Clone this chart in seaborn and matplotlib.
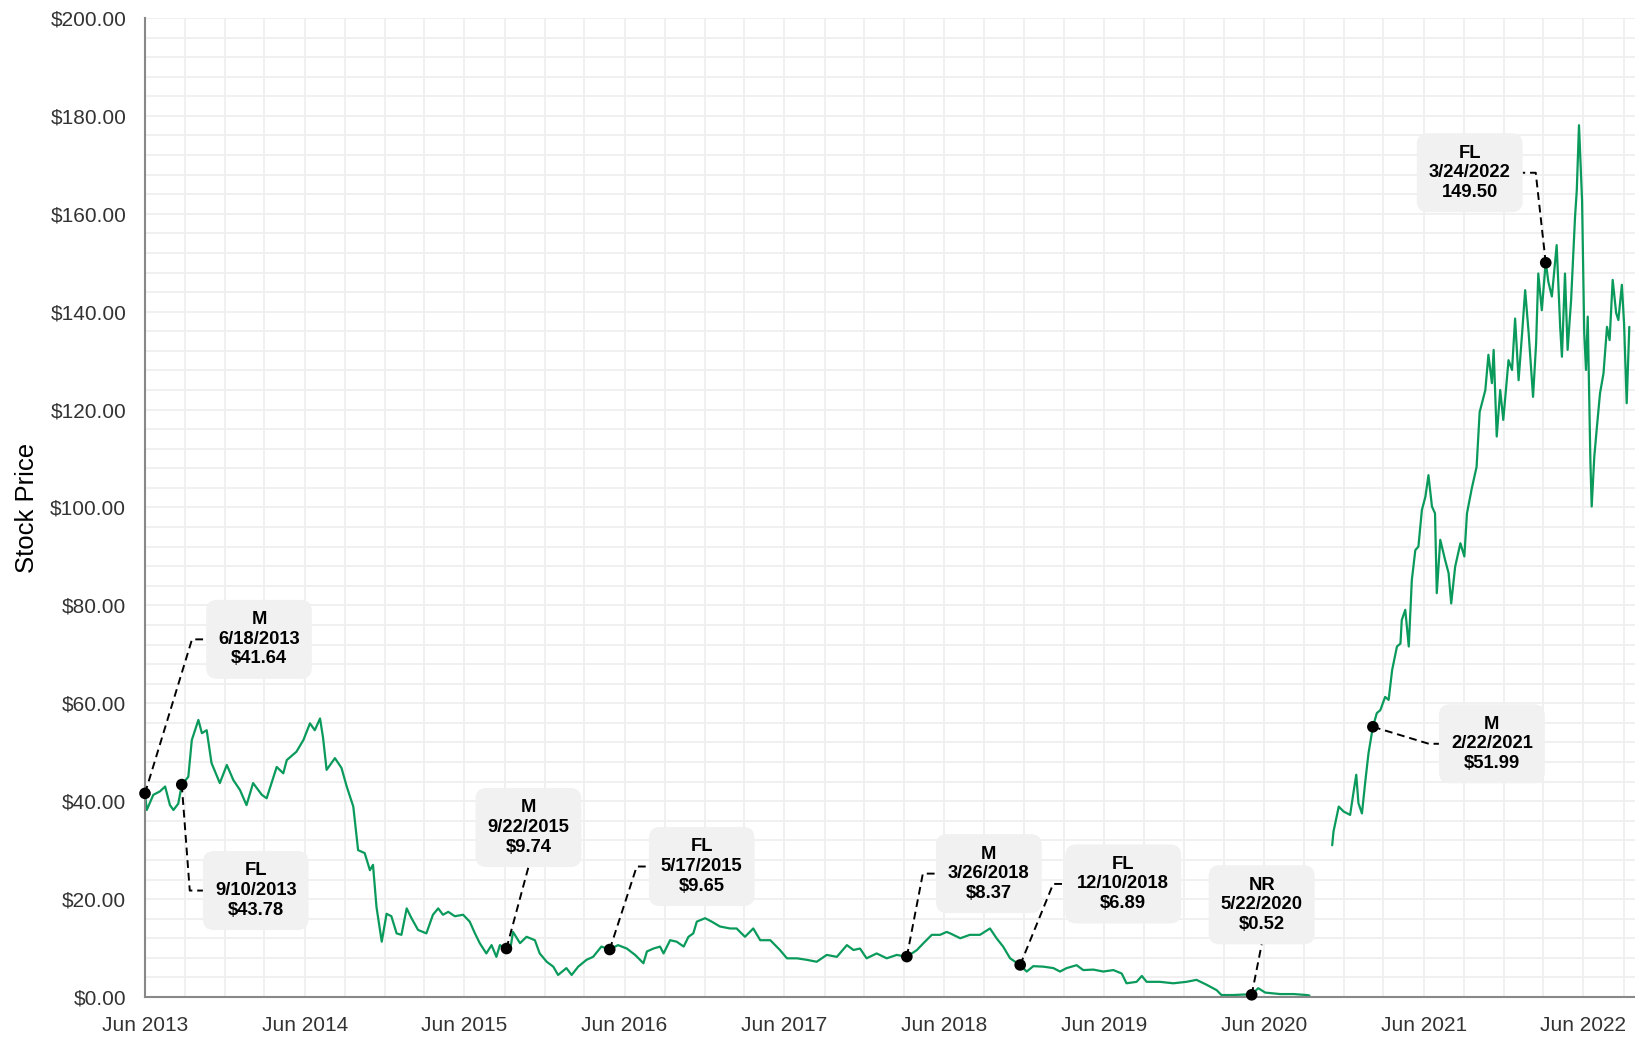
import pandas as pd
import numpy as np
import matplotlib
matplotlib.use('Agg')
import matplotlib.pyplot as plt
import matplotlib.dates as mdates
import matplotlib.ticker as mticker
from matplotlib.patches import FancyBboxPatch
from matplotlib.lines import Line2D
from matplotlib.transforms import IdentityTransform
import seaborn as sns

# --- price series (first part ends before the gap in autumn 2020)
dates_a = [
    '2013-06-01', '2013-06-05', '2013-06-20', '2013-07-05', '2013-07-17', '2013-07-28',
    '2013-08-05', '2013-08-16', '2013-08-24', '2013-09-08', '2013-09-16', '2013-10-01',
    '2013-10-09', '2013-10-20', '2013-10-31', '2013-11-19', '2013-12-05', '2013-12-20',
    '2014-01-04', '2014-01-19', '2014-02-03', '2014-02-23', '2014-03-06', '2014-03-29',
    '2014-04-13', '2014-04-21', '2014-05-13', '2014-05-29', '2014-06-13', '2014-06-24',
    '2014-07-06', '2014-07-13', '2014-07-21', '2014-08-09', '2014-08-24', '2014-09-05',
    '2014-09-20', '2014-10-01', '2014-10-16', '2014-10-28', '2014-11-04', '2014-11-12',
    '2014-11-24', '2014-12-05', '2014-12-16', '2014-12-28', '2015-01-08', '2015-01-20',
    '2015-01-31', '2015-02-15', '2015-03-06', '2015-03-21', '2015-04-02', '2015-04-13',
    '2015-04-25', '2015-05-10', '2015-05-29', '2015-06-13', '2015-06-25', '2015-07-06',
    '2015-07-21', '2015-08-02', '2015-08-13', '2015-08-21', '2015-09-05', '2015-09-13',
    '2015-09-20', '2015-10-06', '2015-10-21', '2015-11-09', '2015-11-20', '2015-12-06',
    '2015-12-21', '2016-01-01', '2016-01-20', '2016-02-01', '2016-02-16', '2016-03-06',
    '2016-03-21', '2016-04-09', '2016-04-28', '2016-05-17', '2016-06-06', '2016-06-25',
    '2016-07-14', '2016-07-22', '2016-08-06', '2016-08-21', '2016-08-29', '2016-09-13',
    '2016-09-28', '2016-10-14', '2016-10-25', '2016-11-05', '2016-11-13', '2016-12-02',
    '2016-12-17', '2017-01-05', '2017-01-28', '2017-02-12', '2017-03-03', '2017-03-22',
    '2017-04-07', '2017-04-30', '2017-05-22', '2017-06-07', '2017-06-30', '2017-07-22',
    '2017-08-14', '2017-09-06', '2017-09-29', '2017-10-22', '2017-11-06', '2017-11-21',
    '2017-12-06', '2017-12-29', '2018-01-21', '2018-02-13', '2018-03-08', '2018-03-31',
    '2018-04-15', '2018-05-04', '2018-05-23', '2018-06-07', '2018-06-15', '2018-07-08',
    '2018-07-30', '2018-08-22', '2018-09-14', '2018-09-29', '2018-10-14', '2018-10-30',
    '2018-11-22', '2018-12-07', '2018-12-22', '2019-01-14', '2019-02-06', '2019-02-21',
    '2019-03-08', '2019-03-31', '2019-04-15', '2019-05-08', '2019-05-31', '2019-06-23',
    '2019-07-12', '2019-07-23', '2019-08-15', '2019-08-27', '2019-09-07', '2019-10-07',
    '2019-11-07', '2019-12-07', '2019-12-30', '2020-01-22', '2020-02-14', '2020-02-25',
    '2020-03-23', '2020-04-15', '2020-05-04', '2020-05-19', '2020-06-04', '2020-07-08',
    '2020-08-08', '2020-09-07', '2020-09-13',
]
prices_a = [
    41.6, 38.2, 41.3, 42.0, 43.0, 39.2,
    38.2, 39.5, 43.3, 45.0, 52.5, 56.6,
    53.9, 54.5, 47.8, 43.7, 47.4, 44.3,
    42.3, 39.2, 43.7, 41.3, 40.6, 47.0,
    45.7, 48.4, 50.1, 52.5, 55.9, 54.5,
    56.9, 52.9, 46.4, 48.8, 46.8, 43.0,
    38.9, 30.0, 29.4, 25.9, 27.0, 18.4,
    11.3, 17.0, 16.5, 13.0, 12.7, 18.1,
    16.1, 13.7, 13.0, 16.8, 18.1, 16.8,
    17.4, 16.5, 16.8, 15.4, 13.0, 11.0,
    8.9, 10.6, 8.2, 10.6, 9.9, 9.3,
    13.3, 11.0, 12.3, 11.6, 8.9, 7.2,
    6.2, 4.5, 5.9, 4.5, 6.2, 7.6,
    8.2, 10.3, 9.7, 10.6, 9.9, 8.6,
    6.9, 9.3, 9.9, 10.3, 8.9, 11.6,
    11.3, 10.3, 12.3, 13.0, 15.4, 16.1,
    15.4, 14.4, 14.0, 14.0, 12.3, 14.0,
    11.6, 11.6, 9.6, 7.9, 7.9, 7.6,
    7.2, 8.6, 8.2, 10.6, 9.6, 9.9,
    7.9, 8.9, 7.9, 8.6, 8.2, 9.6,
    11.0, 12.7, 12.7, 13.3, 13.0, 12.0,
    12.7, 12.7, 14.0, 12.0, 10.3, 7.9,
    6.5, 5.2, 6.3, 6.2, 5.9, 5.2,
    5.9, 6.5, 5.5, 5.6, 5.2, 5.5,
    4.8, 2.8, 3.1, 4.3, 3.1, 3.1,
    2.8, 3.1, 3.5, 2.5, 1.4, 0.4,
    0.4, 0.5, 0.5, 1.8, 0.9, 0.6,
    0.6, 0.4, 0.3,
]

dates_b = [
    '2020-11-04', '2020-11-07', '2020-11-19', '2020-11-30', '2020-12-15', '2020-12-23',
    '2020-12-29', '2021-01-03', '2021-01-11', '2021-01-19', '2021-01-26', '2021-02-05',
    '2021-02-14', '2021-02-22', '2021-03-05', '2021-03-13', '2021-03-21', '2021-04-01',
    '2021-04-09', '2021-04-12', '2021-04-20', '2021-04-28', '2021-05-05', '2021-05-13',
    '2021-05-20', '2021-05-28', '2021-06-05', '2021-06-12', '2021-06-20', '2021-06-27',
    '2021-07-01', '2021-07-09', '2021-07-20', '2021-07-28', '2021-08-03', '2021-08-12',
    '2021-08-24', '2021-09-02', '2021-09-08', '2021-09-19', '2021-09-30', '2021-10-07',
    '2021-10-20', '2021-10-27', '2021-11-04', '2021-11-08', '2021-11-15', '2021-11-23',
    '2021-11-30', '2021-12-12', '2021-12-20', '2021-12-27', '2022-01-04', '2022-01-12',
    '2022-01-19', '2022-01-27', '2022-02-06', '2022-02-13', '2022-02-18', '2022-02-26',
    '2022-03-07', '2022-03-13', '2022-03-21', '2022-04-01', '2022-04-09', '2022-04-13',
    '2022-04-20', '2022-04-26', '2022-05-04', '2022-05-13', '2022-05-17', '2022-05-22',
    '2022-05-29', '2022-06-03', '2022-06-07', '2022-06-11', '2022-06-17', '2022-06-20',
    '2022-06-26', '2022-07-02', '2022-07-09', '2022-07-17', '2022-07-25', '2022-07-31',
    '2022-08-07', '2022-08-15', '2022-08-20', '2022-08-28', '2022-09-02', '2022-09-08',
    '2022-09-14',
]
prices_b = [
    31.0, 33.8, 38.9, 37.9, 37.2, 42.0,
    45.4, 39.6, 37.5, 44.3, 49.8, 55.2,
    58.0, 58.6, 61.3, 60.7, 66.8, 71.6,
    72.2, 77.0, 79.1, 71.6, 85.2, 91.3,
    92.0, 99.5, 102.2, 106.6, 100.2, 98.8,
    82.5, 93.4, 89.3, 86.6, 80.4, 87.9,
    92.7, 90.0, 98.8, 103.9, 108.3, 119.5,
    124.0, 131.2, 125.4, 132.2, 114.5, 124.0,
    117.9, 130.1, 128.1, 138.6, 126.0, 135.6,
    144.4, 135.6, 122.6, 133.5, 147.8, 140.3,
    150.2, 146.1, 143.1, 153.6, 136.9, 130.8,
    147.8, 132.2, 142.4, 159.4, 164.9, 178.1,
    162.8, 135.6, 128.1, 139.0, 109.7, 100.2,
    110.4, 116.5, 123.3, 127.4, 136.9, 134.2,
    146.5, 139.7, 138.3, 145.5, 137.6, 121.3,
    136.9,
]

# --- annotated events
event_codes = ['M', 'FL', 'M', 'FL', 'M', 'FL', 'NR', 'M', 'FL']
event_days = ['6/18/2013', '9/10/2013', '9/22/2015', '5/17/2015', '3/26/2018',
              '12/10/2018', '5/22/2020', '2/22/2021', '3/24/2022']
event_amounts = ['$41.64', '$43.78', '$9.74', '$9.65', '$8.37', '$6.89', '$0.52',
                 '$51.99', '149.50']
event_dates = ['2013-06-01', '2013-08-24', '2015-09-05', '2016-04-28', '2018-03-08',
               '2018-11-22', '2020-05-04', '2021-02-05', '2022-03-07']
event_prices = [41.6, 43.4, 9.9, 9.7, 8.25, 6.55, 0.45, 55.2, 150.0]

# callout placement in pixels relative to the point (dx, dy downwards, elbow dx or None)
callout_layout = [
    (114, -154, 47), (74, 106, 8), (22, -121, None), (92, -83, 27), (82, -83, 16),
    (103, -81, 33), (10, -90, None), (119, 17, 56), (-76, -90, -10),
]

GREEN = '#0a9a5b'
W, H = 1635, 1039

sns.set_style('white')
plt.rcParams['font.family'] = ['Liberation Sans', 'DejaVu Sans']


def build_frame():
    a = pd.DataFrame({'date': pd.to_datetime(dates_a), 'price': prices_a, 'segment': 0})
    b = pd.DataFrame({'date': pd.to_datetime(dates_b), 'price': prices_b, 'segment': 1})
    return pd.concat([a, b], ignore_index=True)


def main():
    df = build_frame()
    fig = plt.figure(figsize=(W / 100, H / 100), dpi=100)
    ax = fig.add_axes([145 / W, 42 / H, 1490 / W, 979 / H])

    sns.lineplot(data=df, x='date', y='price', units='segment', estimator=None,
                 color=GREEN, linewidth=1.6, ax=ax, zorder=2)

    ax.set_xlim(pd.Timestamp('2013-06-01'), pd.Timestamp('2022-09-27'))
    ax.set_ylim(0, 200)
    ax.autoscale(False)

    ax.xaxis.set_major_locator(mdates.MonthLocator(bymonth=6))
    ax.xaxis.set_minor_locator(mdates.MonthLocator(bymonth=[3, 9, 12]))
    ax.xaxis.set_major_formatter(mdates.DateFormatter('%b %Y'))
    ax.yaxis.set_major_locator(mticker.MultipleLocator(20))
    ax.yaxis.set_minor_locator(mticker.MultipleLocator(4))
    ax.yaxis.set_major_formatter(mticker.FuncFormatter(lambda v, p: f'${v:,.2f}'))

    ax.grid(which='both', color='#efefef', linewidth=1.3)
    ax.set_axisbelow(True)
    for side in ['top', 'right']:
        ax.spines[side].set_visible(False)
    for side in ['left', 'bottom']:
        ax.spines[side].set_color('#888888')
        ax.spines[side].set_linewidth(1.5)

    ax.tick_params(axis='x', which='major', length=6, width=1.5, color='#888888',
                   labelsize=15, labelcolor='#333333', pad=8)
    ax.tick_params(axis='x', which='minor', length=0)
    ax.tick_params(axis='y', which='major', direction='inout', length=9, width=1.5,
                   color='#888888', labelsize=15, labelcolor='#333333', pad=9)
    ax.tick_params(axis='y', which='minor', direction='in', length=4, width=1.5,
                   color='#888888')

    # event points
    ev = pd.DataFrame({'date': pd.to_datetime(event_dates), 'price': event_prices})
    sns.scatterplot(data=ev, x='date', y='price', color='black', s=70,
                    edgecolor='none', ax=ax, zorder=5, clip_on=False)
    ax.set_xlabel('')
    ax.set_ylabel('Stock Price', fontsize=18.5, color='black')
    ax.yaxis.set_label_coords(-0.071, 0.5)

    # callouts drawn in pixel space
    fig.canvas.draw()
    renderer = fig.canvas.get_renderer()
    ident = IdentityTransform()
    for i in range(len(event_codes)):
        mx, my = ax.transData.transform((mdates.date2num(ev['date'][i]), event_prices[i]))
        bdx, bdy, cdx = callout_layout[i]
        bx, by = mx + bdx, my - bdy
        label = f'{event_codes[i]}\n{event_days[i]}\n{event_amounts[i]}'
        txt = ax.text(bx, by, label, transform=ident, ha='center', va='center',
                      fontsize=13.2, fontweight='bold', linespacing=1.2, color='black',
                      zorder=7, clip_on=False)
        ext = txt.get_window_extent(renderer)
        bw, bh = ext.width + 24, 79
        box = FancyBboxPatch((bx - bw / 2, by - bh / 2), bw, bh,
                             boxstyle='round,pad=0,rounding_size=11', transform=ident,
                             facecolor='#f1f1f1', edgecolor='none', zorder=6, clip_on=False)
        ax.add_patch(box)
        if cdx is None:
            xs, ys = [mx, bx], [my, by - bh / 2]
        else:
            edge = bx - bw / 2 if cdx < bdx else bx + bw / 2
            xs, ys = [mx, mx + cdx, edge], [my, by, by]
        ax.add_line(Line2D(xs, ys, transform=ident, color='black', linewidth=1.4,
                           linestyle=(0, (4, 2.5)), zorder=4, clip_on=False))

    fig.savefig('out.png', dpi=100)
    plt.close(fig)


if __name__ == '__main__':
    main()
